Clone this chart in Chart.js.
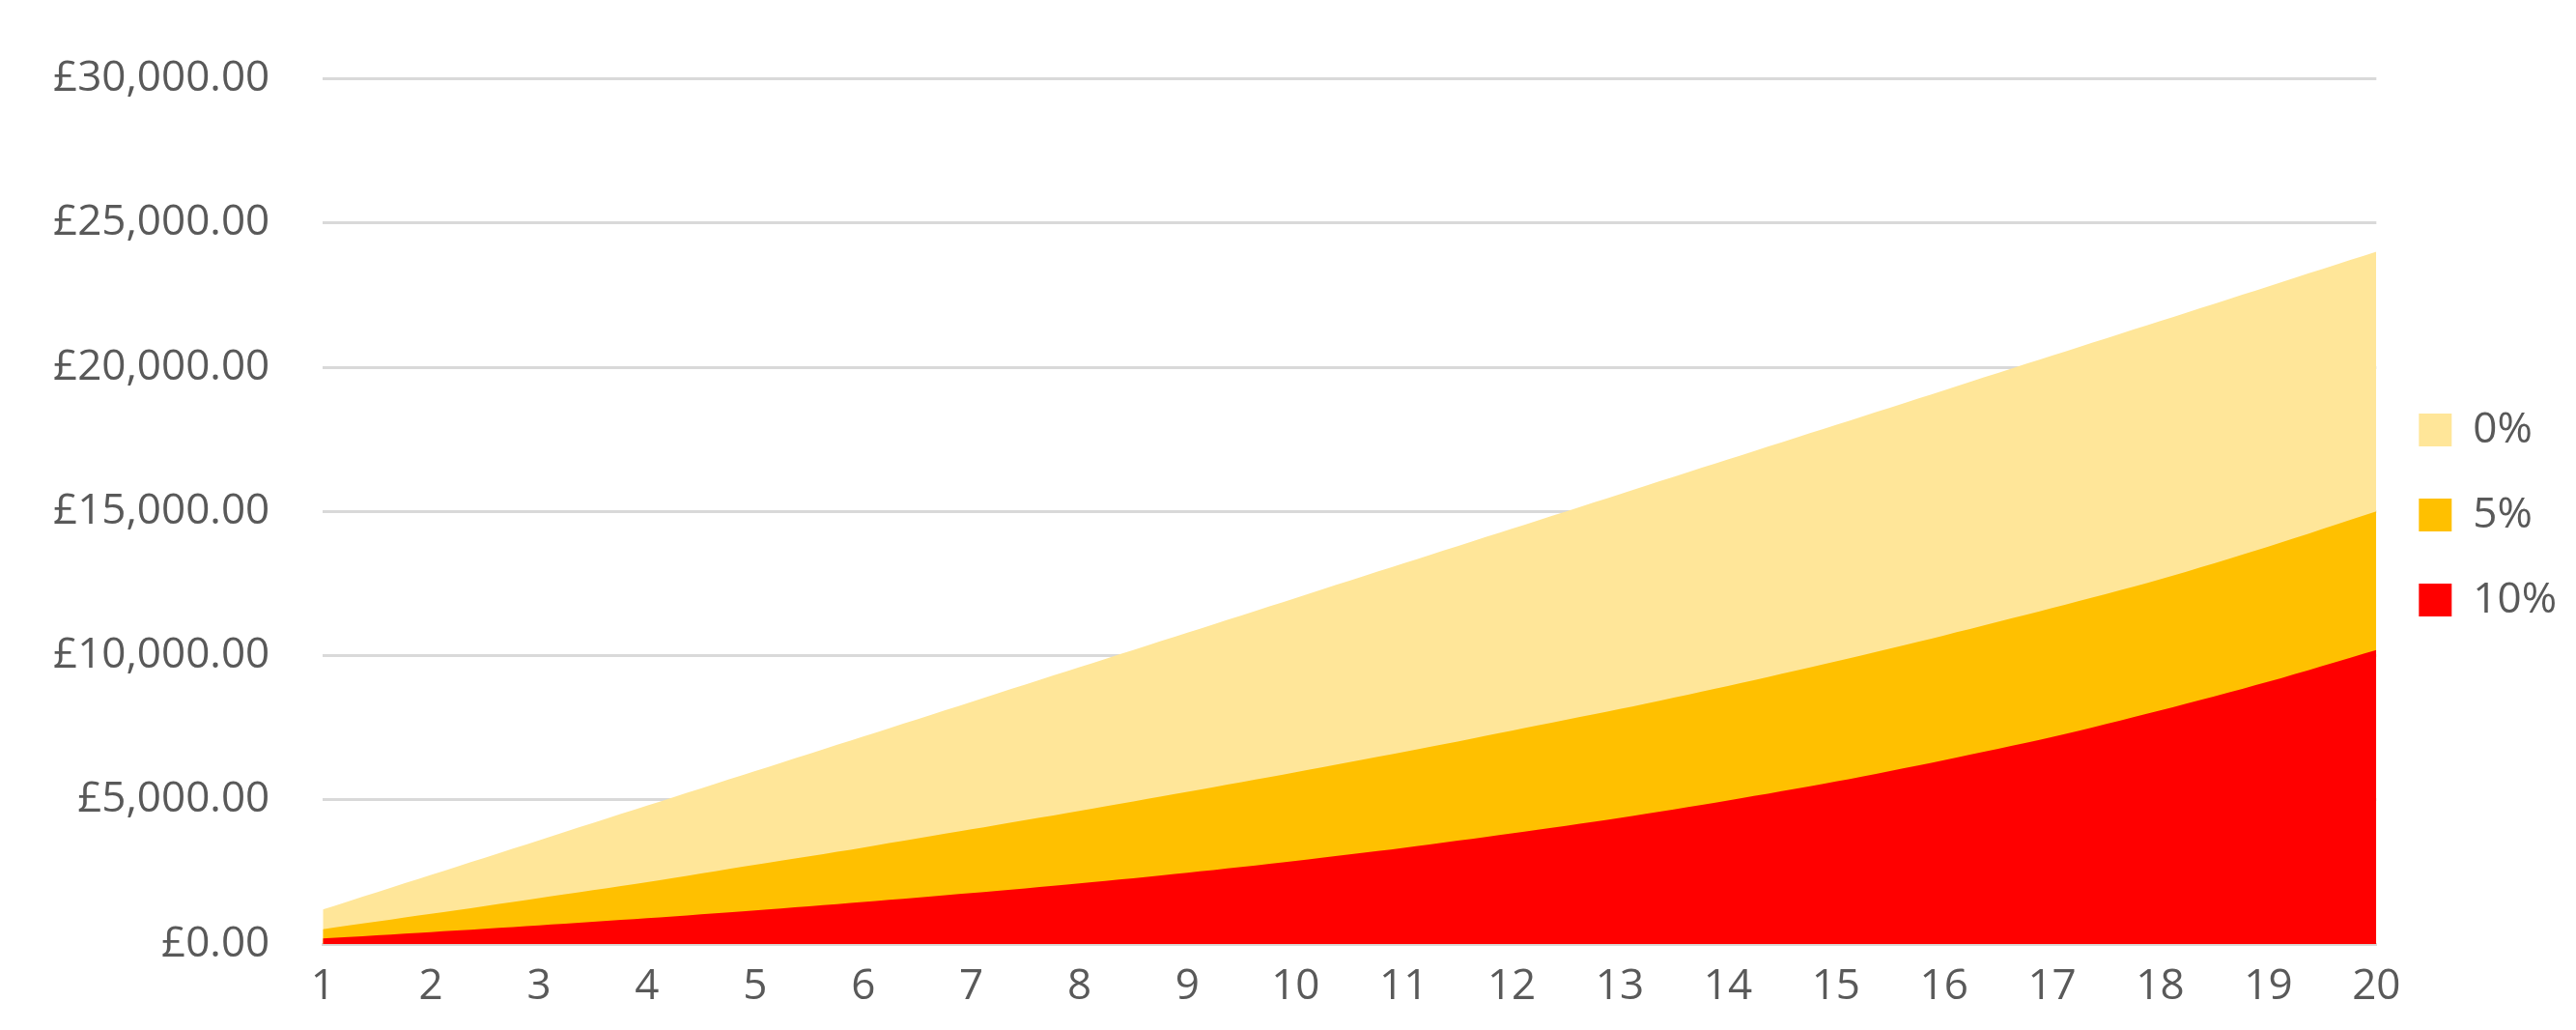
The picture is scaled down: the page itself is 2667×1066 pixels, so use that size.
<!DOCTYPE html>
<html><head><meta charset="utf-8">
<script src="https://cdn.jsdelivr.net/npm/chart.js@4"></script>
<style>html,body{margin:0;padding:0;background:#fff}#w{width:2667px;height:1066px}</style>
</head><body><div id="w"><canvas id="c"></canvas></div>
<script>
const years=[1,2,3,4,5,6,7,8,9,10,11,12,13,14,15,16,17,18,19,20];
const s0=[1200,2400,3600,4800,6000,7200,8400,9600,10800,12000,13200,14400,15600,16800,18000,19200,20400,21600,22800,24000];
const s5=[520,1050,1600,2150,2750,3350,3980,4620,5280,5960,6660,7400,8150,8950,9800,10700,11650,12650,13780,15000];
const s10=[200,420,650,900,1170,1460,1770,2110,2480,2890,3340,3840,4380,4980,5640,6380,7180,8100,9100,10200];
const names=['0%','5%','10%'];
const cols=['#FFE699','#FFC000','#FF0000'];
new Chart(document.getElementById('c'),{type:'line',
data:{labels:years,datasets:[s0,s5,s10].map((d,i)=>({label:names[i],data:d,backgroundColor:cols[i],borderColor:cols[i],borderWidth:0,fill:'origin',pointRadius:0,tension:0.3,order:2-i}))},
options:{responsive:true,maintainAspectRatio:false,animation:false,
layout:{padding:{top:0,right:10,bottom:0,left:0}},
plugins:{legend:{position:'right',labels:{color:'#595959',font:{family:'Open Sans',size:44},boxWidth:34,boxHeight:34,padding:44,
 sort:(a,b)=>a.datasetIndex-b.datasetIndex}},tooltip:{enabled:false}},
scales:{x:{offset:false,grid:{display:false,drawTicks:false},border:{color:'#d9d9d9',width:3},ticks:{color:'#595959',font:{family:'Open Sans',size:44},padding:18}},
y:{min:0,max:30000,ticks:{stepSize:5000,color:'#595959',font:{family:'Open Sans',size:44},padding:55,callback:v=>'£'+v.toLocaleString('en-GB',{minimumFractionDigits:2})},grid:{color:'#d9d9d9',lineWidth:3,drawTicks:false},border:{display:false}}}}});
</script></body></html>
